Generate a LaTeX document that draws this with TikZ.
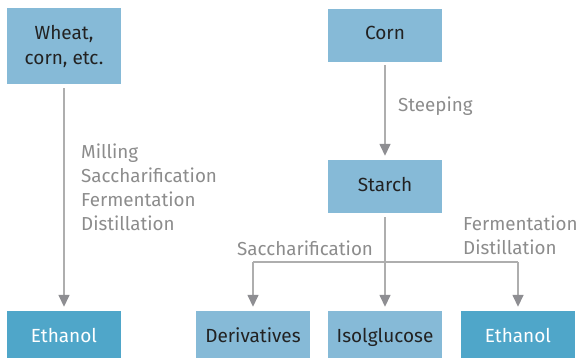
\documentclass[tikz,border=0pt]{standalone}
\usepackage{fontspec}
\setmainfont{Fira Sans}
\usetikzlibrary{arrows.meta}
\definecolor{boxlight}{HTML}{86BAD7}
\definecolor{boxdark}{HTML}{4FA6C9}
\definecolor{txtdark}{HTML}{222222}
\definecolor{lbl}{HTML}{8C8C8C}
\definecolor{ln}{HTML}{AEAEAE}
\definecolor{tip}{HTML}{8E8E92}
\tikzset{
  boxbase/.style={minimum width=114pt, minimum height=53pt, inner sep=0pt, align=center, font=\fontsize{19}{25}\selectfont},
  lbox/.style={boxbase, fill=boxlight, text=txtdark},
  dbox/.style={boxbase, fill=boxdark, text=white},
  oneline/.style={text height=13pt, text depth=4pt},
  lab/.style={text=lbl, inner sep=0pt, align=left, font=\fontsize{18.8}{24}\selectfont},
  conn/.style={draw=ln, line width=1.5pt, -{Triangle[length=12pt,width=11pt,color=tip]}, shorten >=4pt}
}
\begin{document}
\begin{tikzpicture}[x=1pt,y=-1pt]
\useasboundingbox (0,0) rectangle (580,358);
\node[lbox, minimum height=76pt] (wheat) at (64,46) {Wheat,\\corn, etc.};
\node[lbox, oneline] (corn) at (385,35.5) {Corn};
\node[lbox, oneline] (starch) at (385,186.5) {Starch};
\node[dbox, oneline] (eth1) at (64,337.5) {Ethanol};
\node[lbox, oneline] (deriv) at (253,337.5) {Derivatives};
\node[lbox, oneline] (iso) at (385,337.5) {Isolglucose};
\node[dbox, oneline] (eth2) at (518,337.5) {Ethanol};
\coordinate (hl) at (253,262);
\coordinate (hr) at (518,262);
\draw[conn, shorten <=4pt] (wheat) -- (eth1);
\draw[conn, shorten <=3pt] (corn) -- (starch);
\draw[conn, shorten <=4pt] (starch) -- (iso);
\draw[draw=ln, line width=1.5pt] (hl) -- (hr);
\draw[conn] (hl) -- (deriv);
\draw[conn] (hr) -- (eth2);
\node[lab, anchor=west] (l1) at (81,187.5) {Milling\\Saccharification\\Fermentation\\Distillation};
\node[lab, anchor=west] (l2) at (398,106) {Steeping};
\node[lab, anchor=west] (l3) at (237,248) {Saccharification};
\node[lab, anchor=west] (l4) at (463,235) {Fermentation\\Distillation};
\end{tikzpicture}
\end{document}
